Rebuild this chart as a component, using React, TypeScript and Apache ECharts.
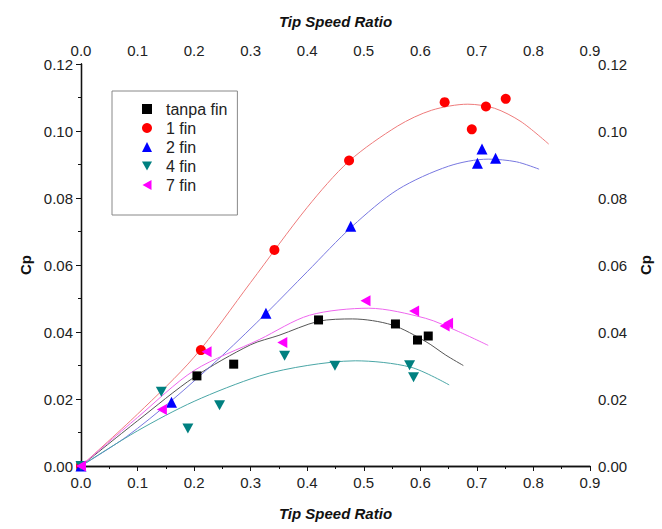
import React, { useEffect, useRef } from "react";
import * as echarts from "echarts";

// Measured points (Tip Speed Ratio, Cp)
const tsrTanpa = [0, 0.205, 0.27, 0.42, 0.556, 0.595, 0.614];
const cpTanpa = [0, 0.0269, 0.0304, 0.0436, 0.0424, 0.0376, 0.0388];
const tsr1 = [0, 0.212, 0.342, 0.474, 0.643, 0.691, 0.716, 0.751];
const cp1 = [0, 0.0346, 0.0645, 0.0912, 0.1086, 0.1005, 0.1073, 0.1096];
const tsr2 = [0, 0.16, 0.327, 0.477, 0.701, 0.709, 0.733];
const cp2 = [0, 0.019, 0.0456, 0.0716, 0.0904, 0.0946, 0.0919];
const tsr4 = [0, 0.142, 0.189, 0.245, 0.36, 0.449, 0.581, 0.588];
const cp4 = [0, 0.0222, 0.0112, 0.0181, 0.0329, 0.0299, 0.0301, 0.0265];
const tsr7 = [0, 0.143, 0.222, 0.356, 0.503, 0.589, 0.643, 0.649];
const cp7 = [0, 0.0169, 0.0341, 0.0369, 0.0493, 0.0463, 0.0418, 0.0426];

// Fitted curves
const fitTanpaX = [0, 0.1, 0.2, 0.3, 0.35, 0.42, 0.48, 0.55, 0.61, 0.645, 0.676];
const fitTanpaY = [0, 0.0135, 0.0265, 0.0362, 0.039, 0.0432, 0.0439, 0.0421, 0.0371, 0.0331, 0.03];
const fit1X = [0, 0.1, 0.2, 0.3, 0.4, 0.474, 0.56, 0.62, 0.684, 0.731, 0.778, 0.827];
const fit1Y = [0, 0.0155, 0.0325, 0.0548, 0.0772, 0.091, 0.1015, 0.1062, 0.108, 0.1068, 0.1028, 0.0961];
const fit2X = [0, 0.08, 0.16, 0.25, 0.33, 0.4, 0.48, 0.56, 0.65, 0.72, 0.77, 0.81];
const fit2Y = [0, 0.0087, 0.0195, 0.033, 0.046, 0.058, 0.0716, 0.0825, 0.0895, 0.0916, 0.0908, 0.0886];
const fit4X = [0, 0.1, 0.2, 0.316, 0.4, 0.485, 0.583, 0.651];
const fit4Y = [0, 0.0105, 0.0193, 0.0269, 0.03, 0.0314, 0.0295, 0.0242];
const fit7X = [0, 0.1, 0.2, 0.316, 0.404, 0.509, 0.609, 0.668, 0.72];
const fit7Y = [0, 0.0145, 0.0285, 0.0378, 0.045, 0.0471, 0.0441, 0.0401, 0.036];

const seriesNames = ["tanpa fin", "1 fin", "2 fin", "4 fin", "7 fin"];
const xTicks = [0, 0.1, 0.2, 0.3, 0.4, 0.5, 0.6, 0.7, 0.8, 0.9];
const yTicks = [0, 0.02, 0.04, 0.06, 0.08, 0.1, 0.12];

const zip = (xs: number[], ys: number[]) => xs.map((x, i) => [x, ys[i]]);

const FONT = "Liberation Sans, Arial, sans-serif";
const DOWN_TRI = "path://M0,0 L10,0 L5,9 Z";
const LEFT_TRI = "path://M9,0 L9,10 L0,5 Z";

export default function App() {
  const ref = useRef<HTMLDivElement>(null);
  useEffect(() => {
    if (!ref.current) return;
    const chart = echarts.init(ref.current, null, { renderer: "svg" });
    const axisLabel = { color: "#222", fontSize: 15, fontFamily: FONT };
    const nameStyle = { color: "#111", fontSize: 15, fontWeight: "bold" as const, fontStyle: "italic" as const, fontFamily: FONT };
    const xBase = {
      type: "value" as const,
      min: xTicks[0],
      max: xTicks[xTicks.length - 1],
      interval: 0.1,
      name: "Tip Speed Ratio",
      nameLocation: "middle" as const,
      nameTextStyle: nameStyle,
      axisLine: { show: true, lineStyle: { color: "#111", width: 1.3 } },
      minorTick: { show: true, splitNumber: 2, length: 3, lineStyle: { color: "#111" } },
      splitLine: { show: false },
      minorSplitLine: { show: false },
    };
    const yBase = {
      type: "value" as const,
      min: yTicks[0],
      max: yTicks[yTicks.length - 1],
      interval: 0.02,
      name: "Cp",
      nameLocation: "middle" as const,
      nameRotate: 90,
      nameTextStyle: { color: "#111", fontSize: 15, fontWeight: "bold" as const, fontFamily: FONT },
      axisLine: { show: true, lineStyle: { color: "#111", width: 1.3 } },
      minorTick: { show: true, splitNumber: 2, length: 3, lineStyle: { color: "#111" } },
      splitLine: { show: false },
      minorSplitLine: { show: false },
    };
    const fitLine = (xs: number[], ys: number[], color: string) => ({
      type: "line" as const,
      data: zip(xs, ys),
      smooth: 0.3,
      showSymbol: false,
      symbol: "none",
      silent: true,
      lineStyle: { color, width: 1 },
      z: 1,
    });
    const scatter = (name: string, xs: number[], ys: number[], color: string, symbol: string, size: number | number[]) => ({
      type: "scatter" as const,
      name,
      data: zip(xs, ys),
      symbol,
      symbolSize: size,
      itemStyle: { color, opacity: 1 },
      z: 3,
    });
    chart.setOption({
      animation: false,
      backgroundColor: "#fff",
      grid: { left: 81, right: 72, top: 64, bottom: 63, containLabel: false },
      xAxis: [
        {
          ...xBase,
          position: "bottom",
          nameGap: 40,
          axisTick: { show: true, inside: false, length: 5, lineStyle: { color: "#111" } },
          axisLabel: { ...axisLabel, margin: 9, formatter: (v: number) => v.toFixed(1) },
        },
        {
          ...xBase,
          position: "top",
          nameGap: 35,
          axisTick: { show: true, inside: true, length: 5, lineStyle: { color: "#111" } },
          axisLabel: { ...axisLabel, margin: 6, formatter: (v: number) => v.toFixed(1) },
        },
      ],
      yAxis: [
        {
          ...yBase,
          position: "left",
          nameGap: 42,
          axisTick: { show: true, inside: false, length: 5, lineStyle: { color: "#111" } },
          axisLabel: { ...axisLabel, margin: 8, formatter: (v: number) => v.toFixed(2) },
        },
        {
          ...yBase,
          position: "right",
          nameGap: 48,
          axisTick: { show: true, inside: true, length: 5, lineStyle: { color: "#111" } },
          axisLabel: { ...axisLabel, margin: 8, formatter: (v: number) => v.toFixed(2) },
        },
      ],
      legend: {
        data: seriesNames,
        orient: "vertical",
        left: 112,
        top: 91,
        itemWidth: 10,
        itemHeight: 10,
        itemGap: 3,
        padding: [10, 10, 22, 30],
        borderColor: "#888",
        borderWidth: 1,
        borderRadius: 0,
        textStyle: { color: "#222", fontSize: 16, fontFamily: FONT, padding: [0, 0, 0, 9] },
      },
      series: [
        fitLine(fitTanpaX, fitTanpaY, "#555555"),
        fitLine(fit1X, fit1Y, "#ee7b7b"),
        fitLine(fit2X, fit2Y, "#7878e0"),
        fitLine(fit4X, fit4Y, "#4aa6a6"),
        fitLine(fit7X, fit7Y, "#ee66ee"),
        scatter(seriesNames[0], tsrTanpa, cpTanpa, "#000000", "rect", 9),
        scatter(seriesNames[1], tsr1, cp1, "#ff0000", "circle", 10),
        scatter(seriesNames[2], tsr2, cp2, "#0000ff", "triangle", 11),
        scatter(seriesNames[3], tsr4, cp4, "#008080", DOWN_TRI, [11, 10]),
        scatter(seriesNames[4], tsr7, cp7, "#ff00ff", LEFT_TRI, [10, 11]),
      ],
    });
    return () => chart.dispose();
  }, []);
  return <div ref={ref} style={{ width: 662, height: 529, position: "absolute", left: 0, top: 0 }} />;
}
